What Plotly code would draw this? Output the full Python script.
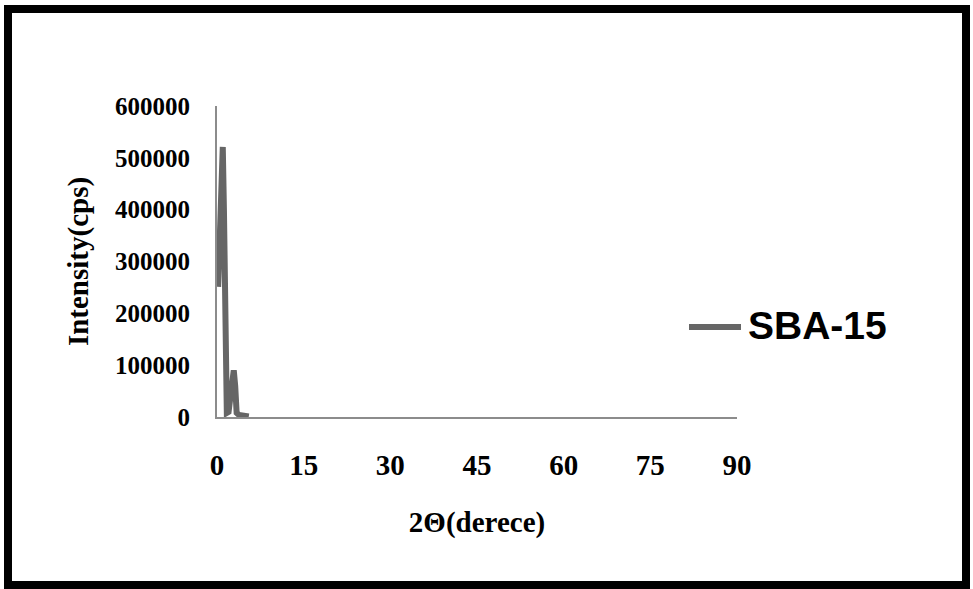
import plotly.graph_objects as go

# Data
two_theta = [0.2, 0.5, 0.8, 1.0, 1.2, 1.45, 1.7, 2.0, 2.3, 2.6, 2.9, 3.15, 3.4, 3.8, 4.5, 5.0, 5.5]
intensity = [251000, 380000, 500000, 521000, 400000, 150000, 8000, 10000, 40000, 85000, 90000, 60000, 8000, 4000, 3000, 2000, 1000]

x_ticks = [0, 15, 30, 45, 60, 75, 90]
y_ticks = [0, 100000, 200000, 300000, 400000, 500000, 600000]
series_name = "SBA-15"

W, H = 973, 589
L, R, T, B = 217, 236, 106, 172
pw, ph = W - L - R, H - T - B


def px(x):
    return (x - L) / pw


def py(y):
    return (H - B - y) / ph


fig = go.Figure()
fig.add_trace(go.Scatter(
    x=two_theta, y=intensity, mode="lines", name=series_name,
    line=dict(color="#666666", width=6), showlegend=False,
))

serif = "Liberation Serif, Times New Roman, serif"

fig.update_layout(
    width=W, height=H,
    margin=dict(l=L, r=R, t=T, b=B),
    paper_bgcolor="white", plot_bgcolor="white",
    xaxis=dict(
        range=[0, 90], tickvals=x_ticks, ticktext=[str(v) for v in x_ticks],
        showgrid=False, zeroline=False, showline=True, linecolor="#8c8c8c", linewidth=2,
        ticks="", ticklabelstandoff=21,
        tickfont=dict(family=serif, size=29, color="black", weight="bold"),
        title=dict(text="<b>2Θ(derece)</b>", font=dict(family=serif, size=29, color="black"), standoff=32),
    ),
    yaxis=dict(
        range=[0, 600000], tickvals=y_ticks, ticktext=[str(v) for v in y_ticks],
        showgrid=False, zeroline=False, showline=True, linecolor="#8c8c8c", linewidth=2,
        ticks="", ticklabelstandoff=20,
        tickfont=dict(family=serif, size=25, color="black", weight="bold"),
        title=dict(text="<b>Intensity(cps)</b>", font=dict(family=serif, size=29, color="black"), standoff=18),
    ),
)

# outer black frame
fig.add_shape(type="rect", xref="paper", yref="paper",
              x0=px(8), x1=px(966), y0=py(585), y1=py(9),
              line=dict(color="black", width=8), fillcolor="rgba(0,0,0,0)", layer="above")

# legend (manual)
fig.add_shape(type="line", xref="paper", yref="paper",
              x0=px(689), x1=px(741), y0=py(327), y1=py(327),
              line=dict(color="#666666", width=6))
fig.add_annotation(xref="paper", yref="paper", x=px(746), y=py(325),
                   text="<b>" + series_name + "</b>", showarrow=False,
                   xanchor="left", yanchor="middle",
                   font=dict(family="Liberation Sans, Arial, sans-serif", size=39, color="black"))

fig.write_html("out.html", config={"displayModeBar": False},
               post_script="document.body.style.margin='0';document.body.style.overflow='hidden';")
